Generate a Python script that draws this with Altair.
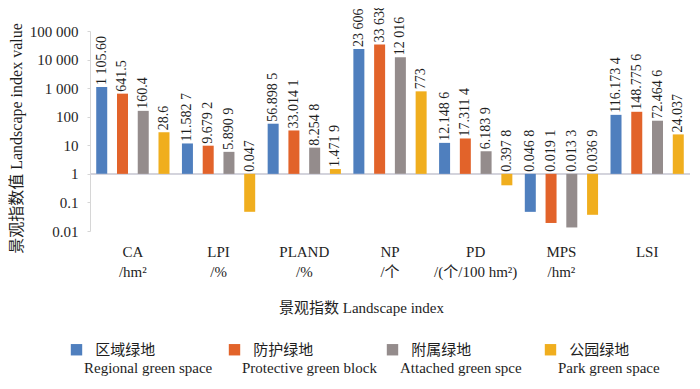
import altair as alt
import pandas as pd

# ---- data -----------------------------------------------------------------
indices = ["CA", "LPI", "PLAND", "NP", "PD", "MPS", "LSI"]
units = ["/hm²", "/%", "/%", "/个", "/(个/100 hm²)", "/hm²", ""]

series_cn = ["区域绿地", "防护绿地", "附属绿地", "公园绿地"]
series_en = ["Regional green space", "Protective green block",
             "Attached  green spce", "Park green space"]
colors = ["#4f7fbe", "#e2632a", "#948c8c", "#f0ae1e"]

regional = [1105.60, 11.5827, 56.8985, 23606, 12.1486, 0.0468, 116.1734]
protective = [641.5, 9.6792, 33.0141, 33638, 17.3114, 0.0191, 148.7756]
attached = [160.4, 5.8909, 8.2548, 12016, 6.1839, 0.0133, 72.4646]
park = [28.6, 0.047, 1.4719, 773, 0.3978, 0.0369, 24.037]

regional_lbl = ["1 105.60", "11.582 7", "56.898 5", "23 606", "12.148 6", "0.046 8", "116.173 4"]
protective_lbl = ["641.5", "9.679 2", "33.014 1", "33 638", "17.311 4", "0.019 1", "148.775 6"]
attached_lbl = ["160.4", "5.890 9", "8.254 8", "12 016", "6.183 9", "0.013 3", "72.464 6"]
park_lbl = ["28.6", "0.047", "1.471 9", "773", "0.397 8", "0.036 9", "24.037"]

y_ticks = [0.01, 0.1, 1, 10, 100, 1000, 10000, 100000]
y_tick_labels = ["0.01", "0.1", "1", "10", "100", "1 000", "10 000", "100 000"]

# ---- table -----------------------------------------------------------------
all_vals = [regional, protective, attached, park]
all_lbls = [regional_lbl, protective_lbl, attached_lbl, park_lbl]
rows = []
for s_i, (cn, en) in enumerate(zip(series_cn, series_en)):
    for c_i, (idx, unit) in enumerate(zip(indices, units)):
        rows.append({
            "cat": f"{idx}|{unit}",
            "series": f"{cn}|{en}",
            "value": all_vals[s_i][c_i],
            "label": all_lbls[s_i][c_i],
        })
df = pd.DataFrame(rows)
cat_order = [f"{i}|{u}" for i, u in zip(indices, units)]
series_order = [f"{c}|{e}" for c, e in zip(series_cn, series_en)]

FONT = "Liberation Serif, Noto Sans CJK SC, serif"
TXT = "#1e1e1e"

tick_expr = " : ".join(
    f"abs(datum.value - {v}) < {v} * 1e-6 ? '{l}'" for v, l in zip(y_ticks, y_tick_labels)
) + " : ''"

x_enc = alt.X(
    "cat:N", sort=cat_order,
    scale=alt.Scale(paddingInner=0, paddingOuter=0),
    axis=alt.Axis(
        title="景观指数 Landscape index",
        labelExpr="split(datum.label, '|')",
        labelAngle=0, labelFont=FONT, labelFontSize=15, labelColor=TXT,
        labelPadding=13, labelLineHeight=20, labelBaseline="top",
        domain=False, ticks=False,
        titleFont=FONT, titleFontSize=15, titleFontWeight="normal", titleColor=TXT,
        titleX=271, titleY=76, titleBaseline="middle", titleAlign="center",
    ),
)
xoff_enc = alt.XOffset("series:N", sort=series_order,
                       scale=alt.Scale(paddingInner=0.47, paddingOuter=0.3))

base = alt.Chart(df)

bars = base.mark_bar().encode(
    x=x_enc,
    xOffset=xoff_enc,
    y=alt.Y(
        "value:Q",
        scale=alt.Scale(type="log", domain=[0.01, 100000]),
        axis=alt.Axis(
            title="景观指数值 Landscape index value",
            values=y_ticks, labelExpr=tick_expr,
            labelFont=FONT, labelFontSize=15, labelColor=TXT, labelPadding=9,
            domainColor="#d6d6d6", tickColor="#d6d6d6", tickSize=3, grid=False,
            titleFont=FONT, titleFontSize=16, titleFontWeight="normal", titleColor=TXT,
            titleX=-74, titleY=107, titleAngle=270, titleAlign="center",
            titleBaseline="middle",
        ),
    ),
    y2=alt.datum(1),
    color=alt.Color(
        "series:N", sort=series_order,
        scale=alt.Scale(domain=series_order, range=colors),
        legend=alt.Legend(
            title=None, orient="none", legendX=-21, legendY=311,
            direction="horizontal", columns=4, gridAlign="all", columnPadding=8,
            symbolType="square", symbolSize=130, symbolStrokeWidth=0,
            labelExpr="['\u200d\u00a0\u00a0\u00a0' + split(datum.label, '|')[0], split(datum.label, '|')[1]]",
            labelFont=FONT, labelFontSize=15, labelColor=TXT,
            labelBaseline="middle", labelOffset=0, labelLimit=400,
        ),
    ),
)

text = base.transform_calculate(
    ly="max(datum.value, 1)"
).mark_text(
    angle=270, align="left", baseline="middle", dx=2,
    font=FONT, fontSize=14, color=TXT,
).encode(
    x=alt.X("cat:N", sort=cat_order),
    xOffset=alt.XOffset("series:N", sort=series_order),
    y=alt.Y("ly:Q"),
    text="label:N",
)

baseline = alt.Chart(df).mark_rule(color="#d3d3db", strokeWidth=1).encode(
    y=alt.datum(1)
)

chart = alt.layer(baseline, bars, text).properties(
    width=600, height=200,
    autosize=alt.AutoSizeParams(type="none"),
    padding={"left": 82, "top": 23, "right": 2, "bottom": 150},
).configure(
    style={"guide-label": {"lineHeight": 18}}
).configure_view(stroke=None)

chart.save("out.html", embed_options={"renderer": "svg", "actions": False})
